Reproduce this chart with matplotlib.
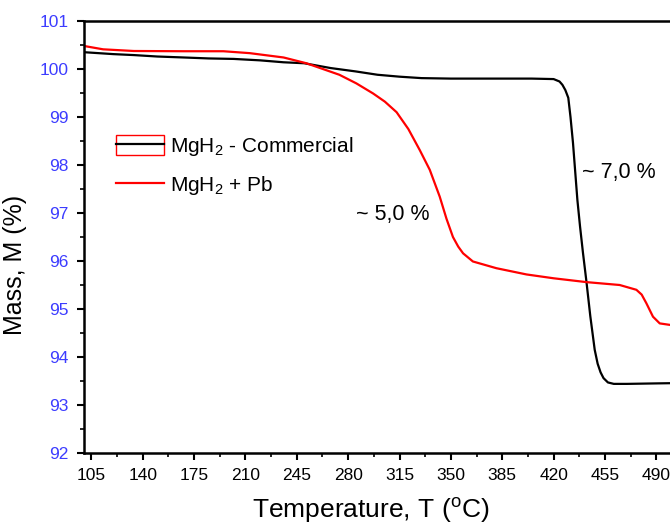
import numpy as np
import matplotlib
matplotlib.use("Agg")
import matplotlib.pyplot as plt
from matplotlib.patches import Rectangle
from matplotlib.legend_handler import HandlerTuple
from matplotlib.ticker import MultipleLocator

plt.rcParams['font.family'] = ['Liberation Sans', 'DejaVu Sans']
plt.rcParams['mathtext.default'] = 'regular'

# MgH2 commercial (black)
tempCommercial = [100, 120, 134, 150, 168, 185, 202, 220, 236, 250, 268, 285, 300, 315, 330,
                  350, 380, 405, 420, 424, 426, 428, 430, 431.5, 433.2, 436.2, 438, 440, 442.4,
                  445, 448, 450, 452, 454, 457, 461, 470, 490, 512]
massCommercial = [100.35, 100.31, 100.29, 100.26, 100.24, 100.22, 100.21, 100.18, 100.14, 100.12,
                  100.02, 99.95, 99.88, 99.84, 99.81, 99.8, 99.8, 99.8, 99.79, 99.74, 99.67,
                  99.56, 99.4, 99.0, 98.46, 97.27, 96.72, 96.17, 95.56, 94.85, 94.15, 93.86,
                  93.68, 93.56, 93.47, 93.44, 93.44, 93.45, 93.46]

# MgH2 + Pb (red)
tempPb = [100, 113, 134, 168, 195, 213, 236, 251.5, 274, 285.6, 297, 305, 313, 321, 328.8,
          335.6, 342.4, 347, 351.4, 355, 358.3, 365, 381, 401.5, 420, 442.4, 465, 476.4, 480,
          483.2, 487.7, 492.3, 499, 512]
massPb = [100.48, 100.41, 100.375, 100.37, 100.37, 100.33, 100.24, 100.12, 99.88, 99.7, 99.49,
          99.32, 99.1, 98.75, 98.31, 97.9, 97.34, 96.88, 96.5, 96.3, 96.16, 95.99, 95.85, 95.72,
          95.64, 95.56, 95.5, 95.4, 95.3, 95.12, 94.84, 94.7, 94.67, 94.66]

labelCommercial = 'MgH$_{2}$ - Commercial'
labelPb = 'MgH$_{2}$ + Pb'
xTicks = [105, 140, 175, 210, 245, 280, 315, 350, 385, 420, 455, 490]
yTicks = [92, 93, 94, 95, 96, 97, 98, 99, 100, 101]

fig = plt.figure(figsize=(6.7, 5.25), dpi=100)
ax = fig.add_axes([84 / 670, 72 / 525, 601.7 / 670, 432 / 525])

lineC, = ax.plot(tempCommercial, massCommercial, c='black', linewidth=1.6)
lineP, = ax.plot(tempPb, massPb, c='#ff0000', linewidth=1.6)

ax.set_xlim(100, 510)
ax.set_ylim(92, 101)
ax.set_xticks(xTicks)
ax.set_yticks(yTicks)
ax.xaxis.set_minor_locator(MultipleLocator(17.5))
ax.yaxis.set_minor_locator(MultipleLocator(0.5))
ax.tick_params(which='major', direction='out', length=5, width=1.5, labelsize=12.5, pad=6)
ax.tick_params(which='minor', direction='out', length=3, width=1.2)
ax.tick_params(axis='y', labelcolor='#3c3cff')
for s in ax.spines.values():
    s.set_linewidth(1.8)

ax.set_xlabel('Temperature, T ($^{o}$C)', fontsize=19)
ax.set_ylabel('Mass, M (%)', fontsize=18)
ax.xaxis.set_label_coords(0.477, -0.1)
ax.yaxis.set_label_coords(-0.095, 0.435)

ax.text(285.6, 96.96, '~ 5,0 %', fontsize=15.5, ha='left', va='center')
ax.text(439, 97.85, '~ 7,0 %', fontsize=15.5, ha='left', va='center')

boxe = Rectangle((0, 0), 1, 1, facecolor='none', edgecolor='#ff0000', linewidth=1.0)
leg = ax.legend([(boxe, lineC), lineP], [labelCommercial, labelPb],
                handler_map={tuple: HandlerTuple(ndivide=1)},
                loc='upper left', bbox_to_anchor=(0.053, 0.736), frameon=False,
                fontsize=15, handlelength=2.3, handleheight=1.05, handletextpad=0.3,
                labelspacing=0.78, borderpad=0, borderaxespad=0)

fig.savefig('out.png', dpi=100)
